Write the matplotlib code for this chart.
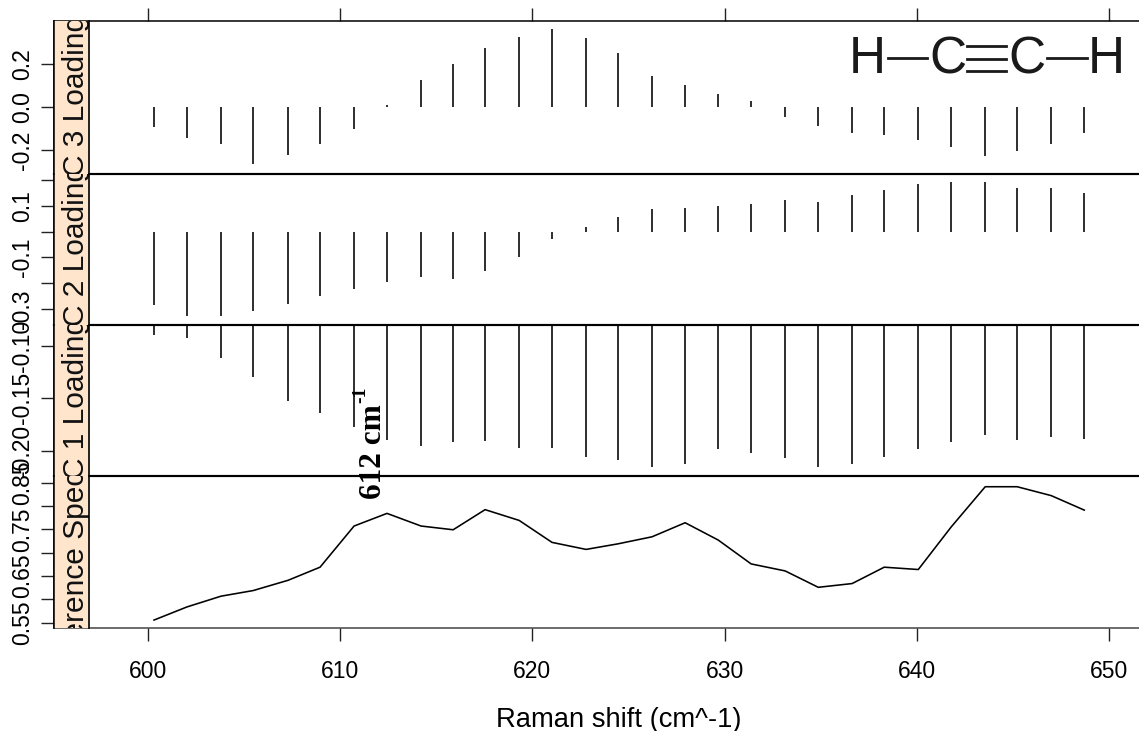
import matplotlib
matplotlib.use("Agg")
import matplotlib.pyplot as plt
from matplotlib.lines import Line2D
from matplotlib.patches import Rectangle

W, H = 1139, 731

raman_shift = [600.34, 602.05, 603.82, 605.49, 607.31, 608.97, 610.74, 612.45, 614.22, 615.89,
               617.55, 619.32, 621.03, 622.80, 624.47, 626.23, 627.95, 629.67, 631.38, 633.15,
               634.87, 636.63, 638.30, 640.07, 641.78, 643.55, 645.21, 646.98, 648.70]
pc3_loading = [-0.093, -0.144, -0.169, -0.262, -0.220, -0.169, -0.102, 0.011, 0.127, 0.203,
               0.278, 0.329, 0.363, 0.321, 0.254, 0.146, 0.104, 0.062, 0.028, -0.045,
               -0.087, -0.119, -0.128, -0.152, -0.184, -0.226, -0.203, -0.170, -0.119]
pc2_loading = [-0.285, -0.328, -0.328, -0.308, -0.281, -0.251, -0.224, -0.196, -0.175, -0.183,
               -0.154, -0.100, -0.029, 0.017, 0.058, 0.087, 0.093, 0.101, 0.107, 0.122,
               0.114, 0.142, 0.163, 0.184, 0.192, 0.192, 0.171, 0.171, 0.149]
pc1_loading = [-0.0895, -0.0924, -0.1112, -0.1299, -0.1522, -0.1643, -0.1777, -0.1898, -0.1952, -0.1920,
               -0.1904, -0.1971, -0.1971, -0.2057, -0.2089, -0.2159, -0.2124, -0.1987, -0.2019, -0.2073,
               -0.2159, -0.2124, -0.2057, -0.1987, -0.1920, -0.1850, -0.1901, -0.1866, -0.1885]
reference = [0.556, 0.584, 0.607, 0.619, 0.641, 0.669, 0.757, 0.784, 0.757, 0.749,
             0.792, 0.769, 0.722, 0.707, 0.719, 0.734, 0.764, 0.727, 0.676, 0.661,
             0.626, 0.634, 0.669, 0.664, 0.755, 0.841, 0.841, 0.822, 0.791]

x_ticks = [600, 610, 620, 630, 640, 650]
pc3_ticks = [-0.2, 0.0, 0.2]
pc3_labels = ["-0.2", "0.0", "0.2"]
pc2_ticks = [-0.3, -0.2, -0.1, 0.0, 0.1, 0.2]
pc2_labels = ["-0.3", "", "-0.1", "", "0.1", ""]
pc1_ticks = [-0.20, -0.15, -0.10]
pc1_labels = ["-0.20", "-0.15", "-0.10"]
ref_ticks = [0.55, 0.60, 0.65, 0.70, 0.75, 0.80, 0.85]
ref_labels = ["0.55", "", "0.65", "", "0.75", "", "0.85"]

strip_names = ["PC 3 Loading", "PC 2 Loading", "PC 1 Loading", "Reference Spectrum"]

plt.rcParams["font.family"] = ["Liberation Sans", "DejaVu Sans"]
fig = plt.figure(figsize=(W / 100, H / 100), dpi=100)


def fx(p):
    return p / W


def fy(p):
    return 1 - p / H


LEFT, STRIP_R = 54, 88.5
xlim = (600 + (LEFT - 147.5) / 19.236, 600 + (W - 147.5) / 19.236)

panels = [
    (21, 173.5, (-0.307, 0.402), pc3_loading, pc3_ticks, pc3_labels, "h", 105),
    (173.5, 324.5, (-0.361, 0.226), pc2_loading, pc2_ticks, pc2_labels, "h", 255.5),
    (324.5, 475.5, (-0.2237, -0.0795), pc1_loading, pc1_ticks, pc1_labels, "h", 408.5),
    (475.5, 628, (0.539, 0.865), reference, ref_ticks, ref_labels, "l", 548),
]

for i, (top, bottom, ylim, vals, ticks, labels, kind, text_c) in enumerate(panels):
    ax = fig.add_axes([fx(LEFT), fy(bottom), fx(W - LEFT), (bottom - top) / H])
    ax.set_xlim(xlim)
    ax.set_ylim(ylim)
    ax.patch.set_alpha(0)
    if kind == "h":
        ax.vlines(raman_shift, 0, vals, color="black", lw=1.15, zorder=3)
    else:
        ax.plot(raman_shift, vals, color="black", lw=1.15, zorder=3)

    ax.set_yticks(ticks)
    ax.set_yticklabels(labels, rotation=90, va="center", fontsize=16.5)
    ax.tick_params(axis="y", length=9.4, width=1.0, pad=5, color="#222222")
    ax.spines["right"].set_visible(False)
    ax.spines["left"].set_linewidth(1.1)
    ax.spines["top"].set_linewidth(1.5 if i else 1.1)
    ax.spines["bottom"].set_linewidth(1.5 if i < 3 else 1.1)
    ax.spines["bottom"].set_color("black" if i < 3 else "#444444")

    ax.set_xticks(x_ticks)
    if i == 0:
        ax.tick_params(axis="x", which="both", top=True, bottom=False, labeltop=False,
                       labelbottom=False, length=9.4, width=1.0, color="#222222")
    elif i == 3:
        ax.tick_params(axis="x", length=9.4, width=1.0, pad=14, labelsize=16.5, color="#222222")
    else:
        ax.tick_params(axis="x", bottom=False, labelbottom=False)

    strip = Rectangle((fx(LEFT), fy(bottom)), fx(STRIP_R - LEFT), (bottom - top) / H,
                      transform=fig.transFigure, facecolor="#FFE5CC",
                      edgecolor="none", zorder=1)
    fig.add_artist(strip)
    fig.add_artist(Line2D([fx(STRIP_R)] * 2, [fy(top), fy(bottom)], color="black", lw=1.2, zorder=4))
    fig.add_artist(Line2D([fx(LEFT)] * 2, [fy(top), fy(bottom)], color="black", lw=1.1, zorder=4))
    clip = Rectangle((fx(LEFT), fy(bottom)), fx(STRIP_R + 1.5 - LEFT), (bottom - top) / H,
                     transform=fig.transFigure)
    t = fig.text(fx(76), fy(text_c), strip_names[i], rotation=90, ha="center", va="center",
                 fontsize=21.5, color="#111111", zorder=3)
    t.set_clip_path(clip)
    t.set_clip_on(True)

fig.text(fx(619), fy(720), "Raman shift (cm^-1)", ha="center", va="center", fontsize=19.7)

# annotation across the two lower panels
serif = dict(family=["Liberation Serif", "DejaVu Serif"], weight="bold", color="black", zorder=6)
fig.text(fx(373.5), fy(452), "612 cm", rotation=90, ha="center", va="center", fontsize=22.5, **serif)
fig.text(fx(361), fy(395), "-1", rotation=90, ha="center", va="center", fontsize=14, **serif)

# structural formula of acetylene
for cx, s in [(867.5, "H"), (947.5, "C"), (1027, "C"), (1106, "H")]:
    fig.text(fx(cx), fy(59.5), s, ha="center", va="center", fontsize=37, color="#1a1a1a", zorder=6)
for x0, x1, y in [(888, 927, 58.3), (1047, 1087, 58.3), (967, 1006, 46.3),
                  (967, 1006, 58.6), (967, 1006, 71)]:
    fig.add_artist(Line2D([fx(x0), fx(x1)], [fy(y), fy(y)], color="#1a1a1a", lw=2.0, zorder=6))

fig.savefig("out.png", dpi=100)
